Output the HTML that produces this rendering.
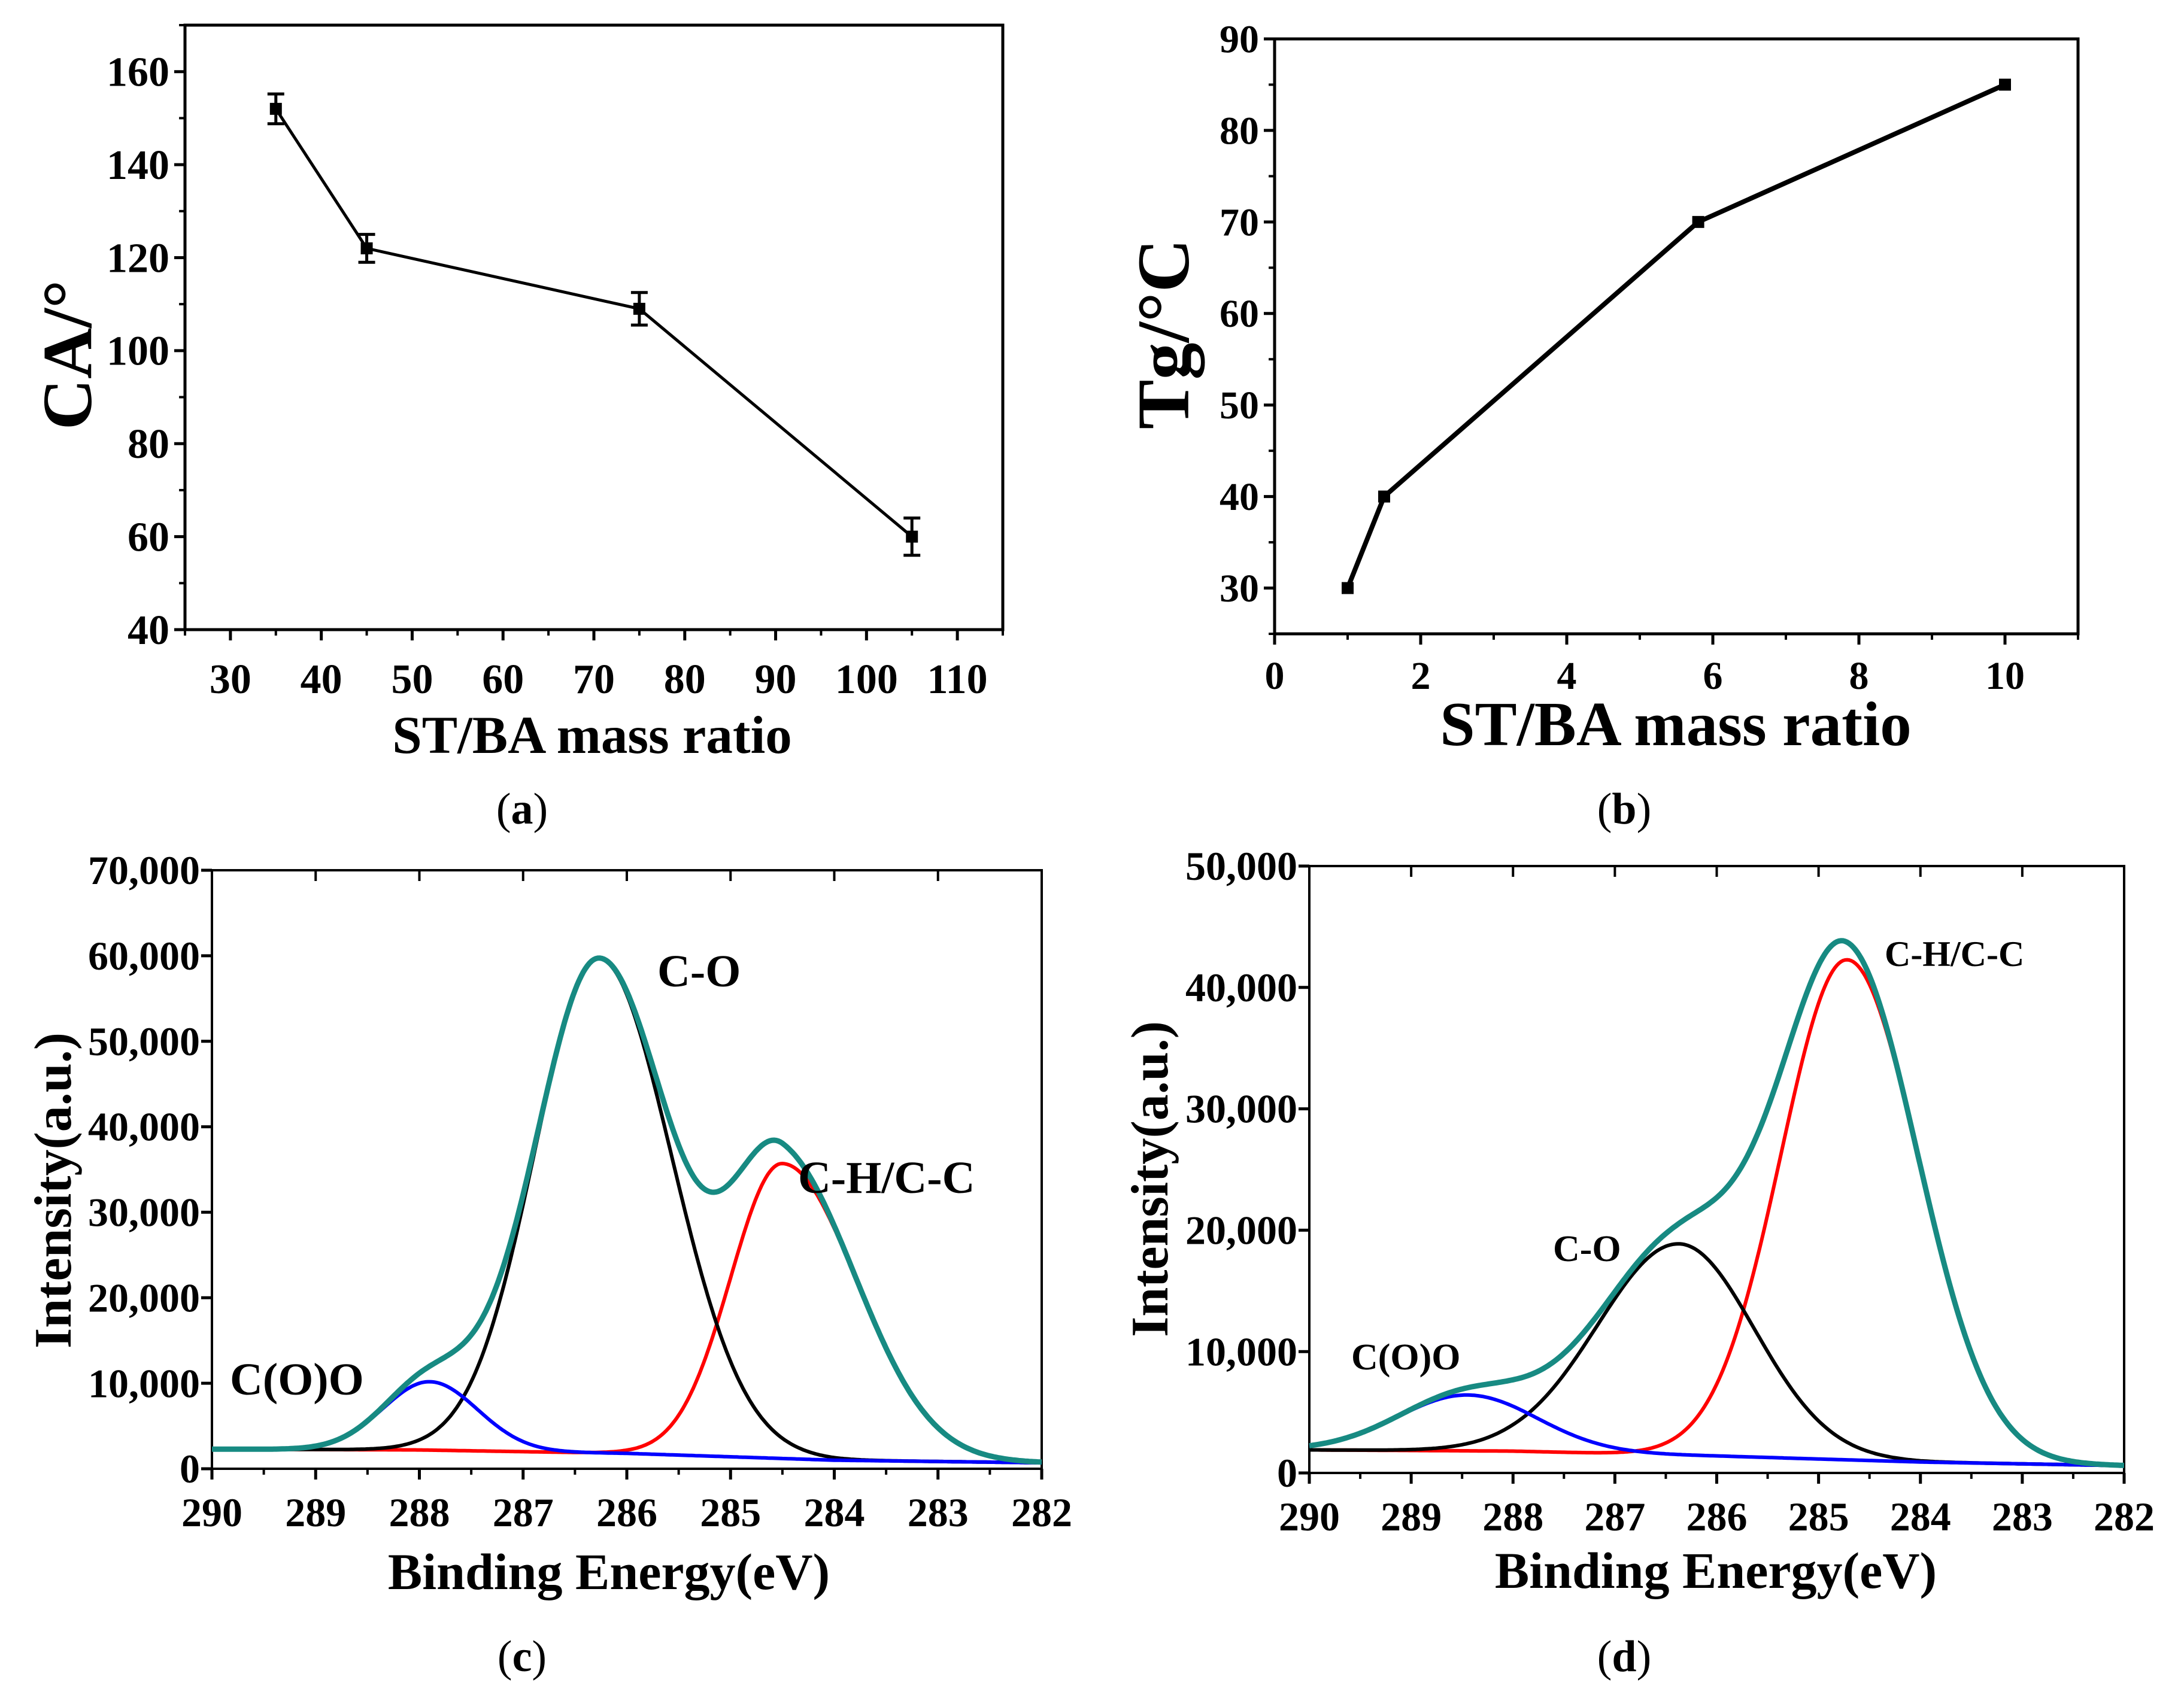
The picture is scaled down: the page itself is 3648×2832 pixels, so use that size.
<!DOCTYPE html>
<html><head><meta charset="utf-8"><style>
html,body{margin:0;padding:0;background:#fff;}
svg{display:block;}
text{font-family:"Liberation Serif",serif;fill:#000;}
</style></head><body>
<svg id="fig" width="3648" height="2832" viewBox="0 0 3648 2832" xmlns="http://www.w3.org/2000/svg"></svg>
<script>
// ---- Panel (a) data ----
const aX = [35, 45, 75, 105];
const aY = [152, 122, 109, 60];
const aErr = [3.2, 3, 3.5, 4];
const aXTicks = [30, 40, 50, 60, 70, 80, 90, 100, 110];
const aYTicks = [40, 60, 80, 100, 120, 140, 160];
// ---- Panel (b) data ----
const bX = [1, 1.5, 5.8, 10];
const bY = [30, 40, 70, 85];
const bXTicks = [0, 2, 4, 6, 8, 10];
const bYTicks = [30, 40, 50, 60, 70, 80, 90];
// ---- Panel (c) XPS fit components: C-H/C-C (red), C-O (black), C(O)O (blue) ----
const cCenters = [284.5, 286.27, 287.9];
const cHeights = [34500, 57800, 8000];
const cSigmaL = [0.5, 0.62, 0.45];
const cSigmaR = [0.72, 0.7, 0.46];
const cBaseX = [290, 288, 286, 284, 282];
const cBaseY = [2300, 2200, 1800, 1000, 700];
// ---- Panel (d) ----
const dCenters = [284.72, 286.37, 288.45];
const dHeights = [41200, 17400, 4600];
const dSigmaL = [0.65, 0.8, 0.68];
const dSigmaR = [0.7, 0.74, 0.68];
const dBaseX = [290, 288, 286, 284, 282];
const dBaseY = [1900, 1800, 1400, 900, 600];
const xpsXTicks = [290, 289, 288, 287, 286, 285, 284, 283, 282];
const cYTicks = [0, 10000, 20000, 30000, 40000, 50000, 60000, 70000];
const dYTicks = [0, 10000, 20000, 30000, 40000, 50000];
const compColors = ['#ff0000', '#000000', '#0000ff'];

const NS = 'http://www.w3.org/2000/svg';
const svg = document.getElementById('fig');
function el(tag, attrs, parent) {
  const e = document.createElementNS(NS, tag);
  for (const k in attrs) e.setAttribute(k, attrs[k]);
  (parent || svg).appendChild(e);
  return e;
}
function txt(s, x, y, size, anchor, weight, parent) {
  const t = el('text', {x: x, y: y, 'font-size': size, 'text-anchor': anchor, 'font-weight': weight}, parent);
  t.textContent = s;
  return t;
}
function scale(d0, d1, p0, p1) { return v => p0 + (v - d0) / (d1 - d0) * (p1 - p0); }
function fmt(v) { return v.toLocaleString('en-US'); }

function frame(g, L, R, T, B, sw) {
  const r = el('rect', {x: L, y: T, width: R - L, height: B - T, fill: 'none', stroke: '#000', 'stroke-width': sw}, g);
  
  
}
function axes(g, o) {
  const {L, R, T, B, sx, sy, xt, yt, xMinor, yMinor, tick, fs, xlabBase, ylabGap, xfmt, yfmt, topTicks} = o;
  const xg = el('g', {}, g);
  
  
  const yg = el('g', {}, g);
  
  
  xt.forEach(v => {
    const x = sx(v);
    el('line', {x1: x, x2: x, y1: B, y2: B + tick, stroke: '#000', 'stroke-width': 5}, xg);
    if (topTicks) el('line', {x1: x, x2: x, y1: T, y2: T + tick, stroke: '#000', 'stroke-width': 4}, xg);
    const t = txt(xfmt ? xfmt(v) : String(v), x, B + xlabBase, fs, 'middle', 'bold', xg);
    
    
  });
  (xMinor || []).forEach(v => {
    const x = sx(v);
    el('line', {x1: x, x2: x, y1: B, y2: B + tick * 0.55, stroke: '#000', 'stroke-width': 4}, xg);
  });
  yt.forEach(v => {
    const y = sy(v);
    el('line', {x1: L - tick, x2: L, y1: y, y2: y, stroke: '#000', 'stroke-width': 5}, yg);
    const t = txt(yfmt ? yfmt(v) : String(v), L - ylabGap, y + fs * 0.34, fs, 'end', 'bold', yg);
    
    
  });
  (yMinor || []).forEach(v => {
    const y = sy(v);
    el('line', {x1: L - tick * 0.55, x2: L, y1: y, y2: y, stroke: '#000', 'stroke-width': 4}, yg);
  });
}
function range(a, b, s) { const r = []; for (let v = a; v <= b + 1e-9; v += s) r.push(+v.toFixed(4)); return r; }

// ================= Panel (a) =================
(function () {
  const g = el('g', {});
  
  
  const L = 309, R = 1675, T = 42, B = 1052;
  const sx = scale(25, 115, L, R), sy = scale(40, 170, B, T);
  axes(g, {L, R, T, B, sx, sy, xt: aXTicks, yt: aYTicks, xMinor: range(25, 115, 5).filter(v => v % 10 !== 0), yMinor: range(50, 170, 20), tick: 18, fs: 70, xlabBase: 106, ylabGap: 26});
  frame(g, L, R, T, B, 5);
  const pts = aX.map((x, i) => sx(x) + ',' + sy(aY[i])).join(' ');
  const line = el('polyline', {points: pts, fill: 'none', stroke: '#000', 'stroke-width': 5}, g);
  
  
  aX.forEach((x, i) => {
    const px = sx(x), y1 = sy(aY[i] + aErr[i]), y2 = sy(aY[i] - aErr[i]);
    const eg = el('g', {}, g);
    
    
    el('line', {x1: px, x2: px, y1: y1, y2: y2, stroke: '#000', 'stroke-width': 5}, eg);
    el('line', {x1: px - 14, x2: px + 14, y1: y1, y2: y1, stroke: '#000', 'stroke-width': 5}, eg);
    el('line', {x1: px - 14, x2: px + 14, y1: y2, y2: y2, stroke: '#000', 'stroke-width': 5}, eg);
    el('rect', {x: px - 10, y: sy(aY[i]) - 10, width: 20, height: 20, fill: '#000'}, eg);
  });
  const xl = txt('ST/BA mass ratio', 989, 1258, 89, 'middle', 'bold', g);
  
  
  const yl = txt('CA/°', 0, 0, 118, 'middle', 'bold', g);
  yl.setAttribute('transform', 'translate(152,593) rotate(-90)');
  
  
  const cap = el('text', {x: 872, y: 1376, 'font-size': 74, 'text-anchor': 'middle'}, g);
  cap.innerHTML = '(<tspan font-weight="bold">a</tspan>)';
  
  
})();

// ================= Panel (b) =================
(function () {
  const g = el('g', {});
  
  
  const L = 2129, R = 3471, T = 65, B = 1059;
  const sx = scale(0, 11, L, R), sy = scale(25, 90, B, T);
  axes(g, {L, R, T, B, sx, sy, xt: bXTicks, yt: bYTicks, xMinor: range(1, 11, 2), yMinor: range(25, 85, 10), tick: 18, fs: 66, xlabBase: 92, ylabGap: 26});
  frame(g, L, R, T, B, 5);
  const pts = bX.map((x, i) => sx(x) + ',' + sy(bY[i])).join(' ');
  const line = el('polyline', {points: pts, fill: 'none', stroke: '#000', 'stroke-width': 8, 'stroke-linejoin': 'round'}, g);
  
  
  bX.forEach((x, i) => {
    const m = el('rect', {x: sx(x) - 10, y: sy(bY[i]) - 10, width: 20, height: 20, fill: '#000'}, g);
    
    
  });
  const xl = txt('ST/BA mass ratio', 2799, 1245, 105, 'middle', 'bold', g);
  
  
  const yl = txt('Tg/°C', 0, 0, 124, 'middle', 'bold', g);
  yl.setAttribute('transform', 'translate(1985,558) rotate(-90)');
  
  
  const cap = el('text', {x: 2713, y: 1376, 'font-size': 74, 'text-anchor': 'middle'}, g);
  cap.innerHTML = '(<tspan font-weight="bold">b</tspan>)';
  
  
})();

// ================= XPS panels =================
function interp(xs, ys, x) {
  for (let i = 0; i < xs.length - 1; i++) {
    const a = xs[i], b = xs[i + 1];
    if ((x <= a && x >= b) || (x >= a && x <= b)) return ys[i] + (x - a) / (b - a) * (ys[i + 1] - ys[i]);
  }
  return ys[ys.length - 1];
}
function comp(x, c, h, sl, sr) {
  const s = x > c ? sl : sr;
  return h * Math.exp(-((x - c) * (x - c)) / (2 * s * s));
}
function xps(o) {
  const g = el('g', {});
  
  
  const {L, R, T, B, ymax} = o;
  const sx = scale(290, 282, L, R), sy = scale(0, ymax, B, T);
  axes(g, {L, R, T, B, sx, sy, xt: xpsXTicks, yt: o.yt, xMinor: range(282.5, 289.5, 1), tick: 18, fs: 68, xlabBase: 96, ylabGap: 20, yfmt: fmt, topTicks: true});
  frame(g, L, R, T, B, 4);
  const N = 400, xs = [];
  for (let i = 0; i <= N; i++) xs.push(290 - 8 * i / N);
  const base = xs.map(x => interp(o.bx, o.by, x));
  const names = ['ch-cc-component', 'c-o-component', 'coo-component'];
  o.cen.forEach((c, k) => {
    const d = xs.map((x, i) => (i ? 'L' : 'M') + sx(x).toFixed(1) + ' ' + sy(base[i] + comp(x, c, o.h[k], o.sl[k], o.sr[k])).toFixed(1)).join(' ');
    const p = el('path', {d: d, fill: 'none', stroke: compColors[k], 'stroke-width': 6}, g);
    
    
  });
  const env = xs.map((x, i) => {
    let v = base[i];
    o.cen.forEach((c, k) => { v += comp(x, c, o.h[k], o.sl[k], o.sr[k]); });
    return (i ? 'L' : 'M') + sx(x).toFixed(1) + ' ' + sy(v).toFixed(1);
  }).join(' ');
  const ep = el('path', {d: env, fill: 'none', stroke: '#178a82', 'stroke-width': 9}, g);
  
  
  o.ann.forEach(a => {
    const t = txt(a[0], a[1], a[2], a[3], 'start', 'bold', g);
    
    
  });
  const xl = txt('Binding Energy(eV)', o.xlx, o.xly, 86, 'middle', 'bold', g);
  
  
  const yl = txt('Intensity(a.u.)', 0, 0, 88, 'middle', 'bold', g);
  yl.setAttribute('transform', 'translate(' + o.ylx + ',' + o.yly + ') rotate(-90)');
  
  
  const cap = el('text', {x: o.capx, y: 2792, 'font-size': 74, 'text-anchor': 'middle'}, g);
  cap.innerHTML = '(<tspan font-weight="bold">' + o.cap + '</tspan>)';
  
  
}
xps({name: 'panel-c-xps-chart', L: 354, R: 1740, T: 1454, B: 2454, ymax: 70000, yt: cYTicks,
  cen: cCenters, h: cHeights, sl: cSigmaL, sr: cSigmaR, bx: cBaseX, by: cBaseY,
  ann: [['C-O', 1098, 1648, 76], ['C-H/C-C', 1333, 1993, 76], ['C(O)O', 384, 2330, 76]],
  xlx: 1017, xly: 2655, ylx: 118, yly: 1989, capx: 872, cap: 'c'});
xps({name: 'panel-d-xps-chart', L: 2187, R: 3548, T: 1447, B: 2461, ymax: 50000, yt: dYTicks,
  cen: dCenters, h: dHeights, sl: dSigmaL, sr: dSigmaR, bx: dBaseX, by: dBaseY,
  ann: [['C-H/C-C', 3148, 1614, 60], ['C-O', 2594, 2107, 62], ['C(O)O', 2257, 2288, 62]],
  xlx: 2866, xly: 2653, ylx: 1950, yly: 1970, capx: 2713, cap: 'd'});
</script>
</body></html>
